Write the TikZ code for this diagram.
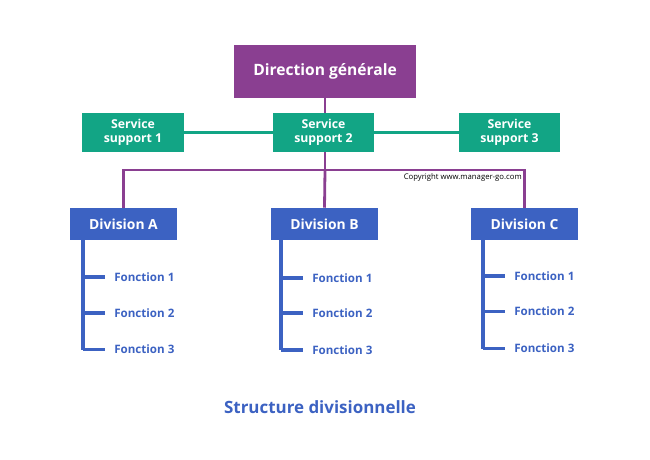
\documentclass[tikz,border=0pt]{standalone}
\usepackage{fontspec}
\setmainfont{Open Sans}
\usetikzlibrary{positioning}

\definecolor{dgpurple}{RGB}{138,63,145}
\definecolor{ssgreen}{RGB}{18,165,133}
\definecolor{divblue}{RGB}{60,98,194}

\begin{document}
\begin{tikzpicture}[x=0.75pt, y=-0.75pt,
  box/.style={draw=none, inner sep=0pt, align=center, text=white, font=\bfseries},
  topbox/.style={box, fill=dgpurple, minimum width=136.5pt, minimum height=40pt, font=\bfseries\fontsize{11.7}{13}\selectfont},
  servbox/.style={box, fill=ssgreen, minimum width=76pt, minimum height=29pt, font=\bfseries\fontsize{9.2}{10.5}\selectfont},
  divbox/.style={box, fill=divblue, minimum width=80pt, minimum height=24pt, font=\bfseries\fontsize{10.4}{12}\selectfont},
  fct/.style={anchor=west, inner sep=0pt, text=divblue, font=\bfseries\fontsize{8.7}{10}\selectfont},
  pline/.style={draw=dgpurple, line width=2.1pt},
  gline/.style={draw=ssgreen, line width=2.1pt},
  bline/.style={draw=divblue, line width=2.4pt}]
\path[use as bounding box] (0,0) rectangle (650,460);
% service line behind the boxes
\node[servbox] (ss1) at (133,132.5) {Service\\support 1};
\node[servbox] (ss3) at (509.5,132.5) {Service\\support 3};
\draw[gline] (ss1.east) -- (ss3.west);
\node[topbox] (dg) at (325,71.5) {Direction générale};
\coordinate (bar) at (325,170);
\draw[pline] (dg.south) -- (bar);
\node[servbox] (ss2) at (323.5,132.5) {Service\\support 2};
\node[divbox] (divA) at (123.5,224) {Division A};
\node[divbox] (divB) at (324.5,224) {Division B};
\node[divbox] (divC) at (524.5,224) {Division C};
\draw[pline] (divA.north) |- (bar) -| (divC.north);
\draw[pline] (bar) -- (divB.north);
\node[anchor=south east, inner sep=0pt, font=\fontsize{5.8}{7}\selectfont] (copy) at (522,182) {Copyright www.manager-go.com};
% fonctions
\node[fct] (a1) at (114,277) {Fonction 1};
\node[fct] (a2) at (114,313) {Fonction 2};
\node[fct] (a3) at (114,349.5) {Fonction 3};
\node[fct] (b1) at (312,278) {Fonction 1};
\node[fct] (b2) at (312,313) {Fonction 2};
\node[fct] (b3) at (312,350) {Fonction 3};
\node[fct] (c1) at (514,276) {Fonction 1};
\node[fct] (c2) at (514,311.5) {Fonction 2};
\node[fct] (c3) at (514,348.5) {Fonction 3};
\coordinate (sa) at (83,349.5);
\coordinate (sb) at (281,350);
\coordinate (sc) at (483,348.5);
\draw[bline] (divA.south -| sa) -- (sa);
\draw[bline] (divB.south -| sb) -- (sb);
\draw[bline] (divC.south -| sc) -- (sc);
\draw[bline, shorten >=7pt] (a1.west -| sa) -- (a1.west);
\draw[bline, shorten >=7pt] (a2.west -| sa) -- (a2.west);
\draw[bline, shorten >=7pt] (sa) -- (a3.west);
\draw[bline, shorten >=7pt] (b1.west -| sb) -- (b1.west);
\draw[bline, shorten >=7pt] (b2.west -| sb) -- (b2.west);
\draw[bline, shorten >=7pt] (sb) -- (b3.west);
\draw[bline, shorten >=7pt] (c1.west -| sc) -- (c1.west);
\draw[bline, shorten >=7pt] (c2.west -| sc) -- (c2.west);
\draw[bline, shorten >=7pt] (sc) -- (c3.west);
\node[text=divblue, font=\bfseries\fontsize{12.7}{14}\selectfont] (title) at (320,407) {Structure divisionnelle};
\end{tikzpicture}
\end{document}
